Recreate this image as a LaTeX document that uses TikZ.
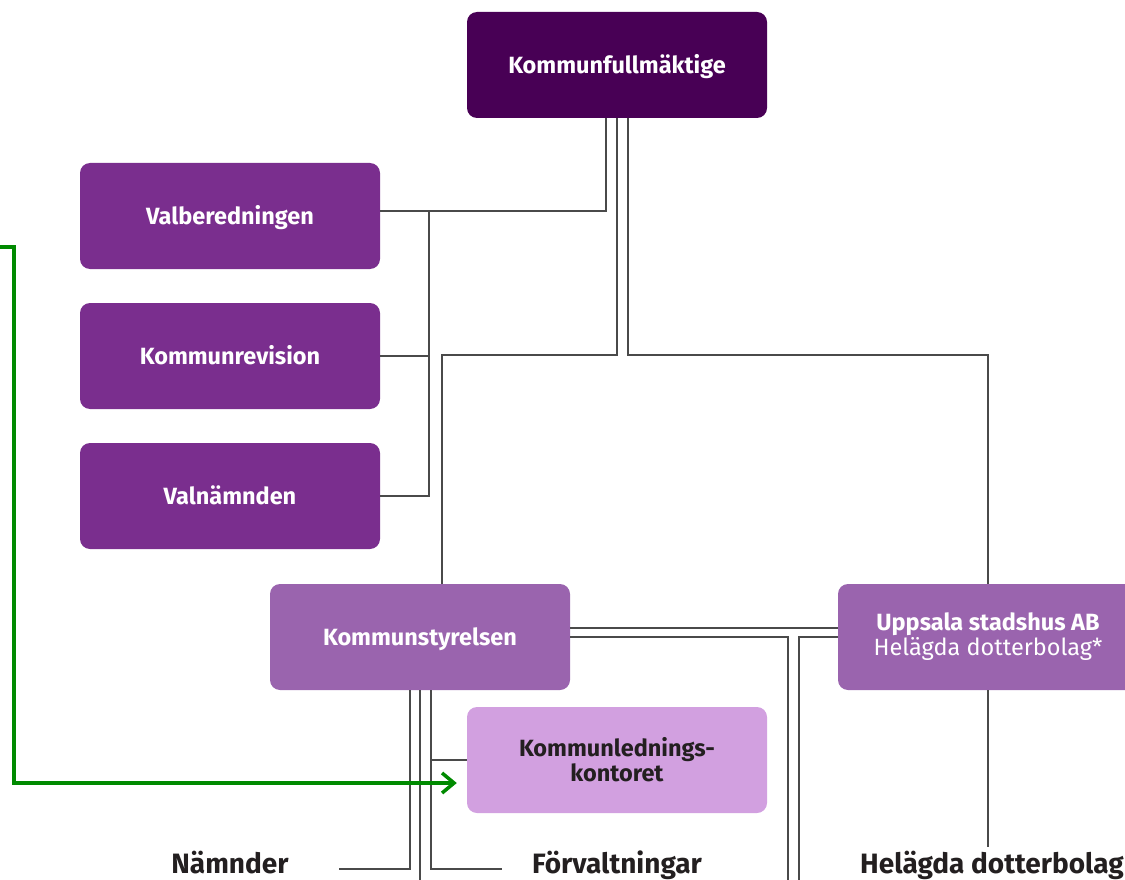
\documentclass[tikz,border=0pt]{standalone}
\usepackage{fontspec}
\setmainfont{Fira Sans}
\usetikzlibrary{arrows.meta,positioning}

\definecolor{kfcol}{HTML}{480055}
\definecolor{darkcol}{HTML}{7A2E8E}
\definecolor{midcol}{HTML}{9A64AE}
\definecolor{lightcol}{HTML}{D2A0E0}
\definecolor{linecol}{HTML}{4A4A4A}
\definecolor{gcol}{HTML}{008A00}
\definecolor{txtcol}{HTML}{231F20}

\begin{document}
\begin{tikzpicture}[x=1pt,y=-1pt,
    box/.style={rounded corners=10pt, minimum width=300pt, minimum height=106pt,
        inner sep=0pt, align=center, text=white, font=\fontsize{23.5}{28}\selectfont\bfseries},
    oneline/.style={text height=17pt, text depth=0pt},
    conn/.style={linecol, line width=1.5pt},
    label/.style={anchor=base, text=txtcol, font=\fontsize{28}{30}\selectfont\bfseries}]

\useasboundingbox (0,0) rectangle (1125,880);

\node[box, oneline, fill=kfcol] (kf) at (617,65) {Kommunfullmäktige};

\node[box, oneline, fill=darkcol] (valb) at (230,216) {Valberedningen};
\node[box, oneline, fill=darkcol] (krev) at (230,356) {Kommunrevision};
\node[box, oneline, fill=darkcol] (valn) at (230,496) {Valnämnden};

\node[box, oneline, fill=midcol] (ks) at (420,637) {Kommunstyrelsen};
\node[box, fill=midcol] (usab) at (988,637) {Uppsala stadshus AB\\[-3pt]{\mdseries Helägda dotterbolag*}};
\node[box, fill=lightcol, text=txtcol] (klk) at (617,760) {Kommunlednings-\\[-3pt]kontoret};

\node[label] (namnder) at (230,873) {Nämnder};
\node[label] (forv) at (617,873) {Förvaltningar};
\node[label] (helag) at (992,873) {Helägda dotterbolag};

\coordinate (vbus) at (429,211);
\coordinate (nend) at (339,869);
\coordinate (fend) at (502,869);
\coordinate (gstart) at (0,247);
\coordinate (gturn) at (14,783);

% fullmäktige
\draw[conn] (606,118) |- (valb.east |- vbus);
\draw[conn] (vbus) |- (valn.east);
\draw[conn] (krev.east) -- (krev.east -| vbus);
\draw[conn] (617,118) |- (442,355) -- (442,584);
\draw[conn] (628,118) |- (usab.north |- 0,355) -- (usab.north);

% styrelsen
\draw[conn] (ks.east |- 0,628) -- (usab.west |- 0,628);
\draw[conn] (ks.east) -| (788,880);
\draw[conn] (usab.west) -| (799,880);
\draw[conn] (usab.south) -- ++(0,157);

\draw[conn] (410,690) |- (nend);
\draw[conn] (420,690) -- (420,880);
\draw[conn] (431,690) |- (fend);
\draw[conn] (431,760) -- (klk.west);

\draw[gcol, line width=3.5pt, -{Straight Barb[length=12pt,width=20pt]}]
    (gstart) -| (gturn) -- ([xshift=-10]klk.west |- gturn);
\end{tikzpicture}
\end{document}
